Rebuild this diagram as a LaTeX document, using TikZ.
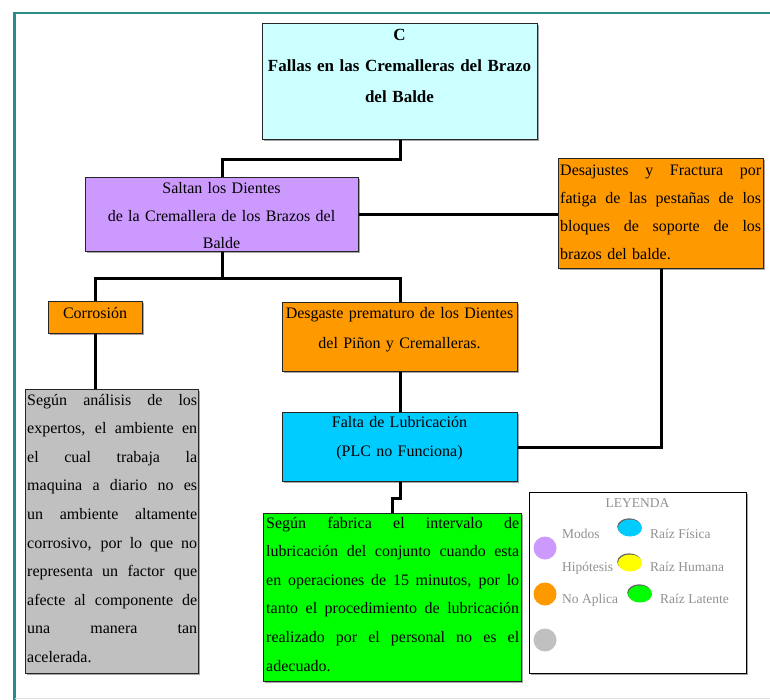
\documentclass[tikz,border=0pt]{standalone}
\usepackage{fontspec}
\setmainfont{Liberation Serif}
\usetikzlibrary{shadows,shapes.geometric}

\definecolor{frameteal}{RGB}{40,140,140}
\definecolor{headcyan}{RGB}{204,255,255}
\definecolor{modepurple}{RGB}{204,153,255}
\definecolor{naorange}{RGB}{255,153,0}
\definecolor{hypgray}{RGB}{192,192,192}
\definecolor{physblue}{RGB}{0,204,255}
\definecolor{humyellow}{RGB}{255,255,0}
\definecolor{latgreen}{RGB}{0,255,0}
\definecolor{legtext}{RGB}{145,145,145}

% one justified line of a paragraph, spread to the full text width
\newcommand{\jline}[1]{\hbox to \hsize{\spaceskip=0.25em plus 10em\relax #1}}
% the closing line of a paragraph, set flush left
\newcommand{\lastline}[1]{\hbox to \hsize{#1\hfil}}

\tikzset{
  box/.style={draw=black!85, line width=1.1pt, inner sep=0pt, anchor=north west,
    drop shadow={shadow xshift=1.3pt, shadow yshift=-1.3pt, fill=black, opacity=0.35}},
  boxtext/.style={inner sep=0pt, font=\fontsize{16pt}{28.6pt}\selectfont},
  headtext/.style={inner sep=0pt, font=\bfseries\fontsize{17pt}{31pt}\selectfont},
  link/.style={draw=black, line width=3pt},
  legendlabel/.style={inner sep=0pt, anchor=base west, text=legtext,
    font=\fontsize{13.5pt}{16pt}\selectfont},
  legenddot/.style={circle, inner sep=0pt, minimum size=23pt},
  legendoval/.style={ellipse, inner sep=0pt, minimum width=24pt, minimum height=17pt,
    drop shadow={shadow xshift=-0.8pt, shadow yshift=1.2pt, fill=black, opacity=0.6}},
}

\begin{document}
\begin{tikzpicture}[x=1pt, y=-1pt]
\useasboundingbox (0,0) rectangle (770,700);
\fill[white] (0,0) rectangle (770,700);

% page frame
\draw[frameteal, line width=2.6pt] (14.5,700) -- (14.5,13) -- (770,13);
\draw[black!12, line width=1pt] (14.5,698.5) -- (770,698.5);

% boxes
\node[box, fill=headcyan, minimum width=275pt, minimum height=116pt] (c) at (262,23) {};
\node[box, fill=modepurple, minimum width=273pt, minimum height=74pt] (modo) at (85,177) {};
\node[box, fill=naorange, minimum width=205pt, minimum height=110pt] (desaj) at (558,158) {};
\node[box, fill=naorange, minimum width=94pt, minimum height=32pt] (corr) at (48,301) {};
\node[box, fill=naorange, minimum width=235pt, minimum height=69pt] (desg) at (282,302) {};
\node[box, fill=hypgray, minimum width=173pt, minimum height=284pt] (anal) at (25,389) {};
\node[box, fill=physblue, minimum width=235pt, minimum height=69pt] (falta) at (282,412) {};
\node[box, fill=latgreen, minimum width=258pt, minimum height=168pt] (fab) at (263,513) {};
\node[box, fill=white, draw=black, minimum width=217pt, minimum height=181pt] (ley) at (529,492) {};

% connectors
\draw[link] (c.south) -- ++(0,19) -| (modo.north);
\draw[link] (modo.east) -- (modo.east -| desaj.west);
\draw[link] (desaj.south) |- (falta.east);
\draw[link] (modo.south) -- ++(0,26) coordinate (split) -| (corr.north);
\draw[link] (split) -| (desg.north);
\draw[link] (corr.south) -- (corr.south |- anal.north);
\draw[link] (desg.south) -- (falta.north);
\draw[link] (falta.south) -- ++(0,16) -| (fab.north);

% box texts
\node[headtext, text width=275pt, align=center, anchor=base] (ctext) at (399.5,41)
  {C\\Fallas en las Cremalleras del Brazo\\del Balde};
\node[boxtext, text width=273pt, align=center, anchor=base,
  font=\fontsize{16pt}{27.5pt}\selectfont] (modotext) at (221.5,194)
  {Saltan los Dientes\\de la Cremallera de los Brazos del\\Balde};
\node[boxtext, text width=201pt, anchor=base west,
  font=\fontsize{16pt}{27.7pt}\selectfont] (desajtext) at (560,176)
  {\jline{Desajustes y Fractura por}
   \jline{fatiga de las pestañas de los}
   \jline{bloques de soporte de los}
   \lastline{brazos del balde.}};
\node[boxtext, anchor=base] (corrtext) at (95,318) {Corrosión};
\node[boxtext, text width=235pt, align=center, anchor=base,
  font=\fontsize{16pt}{30pt}\selectfont] (desgtext) at (399.5,318)
  {Desgaste prematuro de los Dientes\\del Piñon y Cremalleras.};
\node[boxtext, text width=235pt, align=center, anchor=base,
  font=\fontsize{16pt}{29pt}\selectfont] (faltatext) at (399.5,427)
  {Falta de Lubricación\\(PLC no Funciona)};
\node[boxtext, text width=170pt, anchor=base west] (analtext) at (27,405)
  {\jline{Según análisis de los}
   \jline{expertos, el ambiente en}
   \jline{el cual trabaja la}
   \jline{maquina a diario no es}
   \jline{un ambiente altamente}
   \jline{corrosivo, por lo que no}
   \jline{representa un factor que}
   \jline{afecte al componente de}
   \jline{una manera tan}
   \lastline{acelerada.}};
\node[boxtext, text width=253pt, anchor=base west] (fabtext) at (266,528)
  {\jline{Según fabrica el intervalo de}
   \jline{lubricación del conjunto cuando esta}
   \jline{en operaciones de 15 minutos, por lo}
   \jline{tanto el procedimiento de lubricación}
   \jline{realizado por el personal no es el}
   \lastline{adecuado.}};

% legend
\node[legendlabel, anchor=base] (leytitle) at (637.5,507) {LEYENDA};
\node[legenddot, fill=modepurple] (dmod) at (545,548) {};
\node[legenddot, fill=naorange] (dna) at (545,594) {};
\node[legenddot, fill=hypgray] (dhyp) at (545,640) {};
\node[legendoval, fill=physblue] (ofis) at (630,528) {};
\node[legendoval, fill=humyellow] (ohum) at (630,563) {};
\node[legendoval, fill=latgreen] (olat) at (640,594) {};
\node[legendlabel] (lmod) at (562,538) {Modos};
\node[legendlabel] (lhyp) at (562,571) {Hipótesis};
\node[legendlabel] (lna) at (562,603) {No Aplica};
\node[legendlabel] (lfis) at (650,538) {Raíz Física};
\node[legendlabel] (lhum) at (650,571) {Raíz Humana};
\node[legendlabel] (llat) at (660,603) {Raíz Latente};
\end{tikzpicture}
\end{document}
